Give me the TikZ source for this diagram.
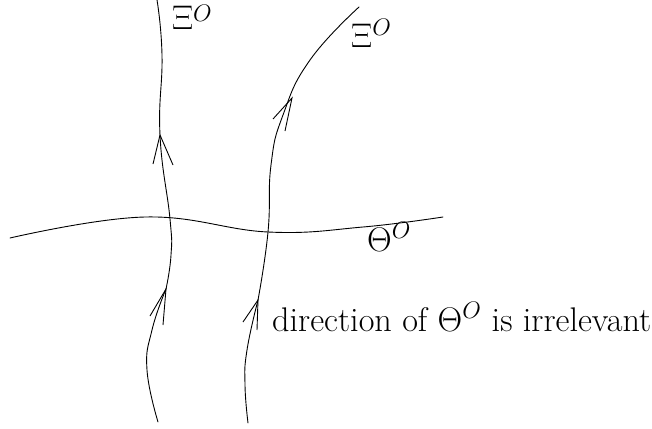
\RequirePackage{fix-cm}
\documentclass[tikz,border=0pt]{standalone}
\begin{document}
\begin{tikzpicture}[x=1pt,y=-1pt,
  curve/.style={line width=0.9pt,line join=round,line cap=round},
  barb/.style={line width=0.9pt,line join=miter},
  lbl/.style={inner sep=0pt,anchor=base west,font=\fontsize{34.2}{40}\selectfont}]
\useasboundingbox (0,0) rectangle (652,428);
% left Xi line
\draw[curve] plot[smooth,tension=0.8] coordinates {(157,0) (162,55) (160,135) (170,219) (171,255) (166,289)};
\draw[curve] plot[smooth,tension=0.8] coordinates {(166,289) (152,330) (147,370) (158,422)};
\draw[barb] (153,164) -- (160,135) -- (173,165);
\draw[barb] (150,316) -- (166,289) -- (163,325);
% right Xi line
\draw[curve] plot[smooth,tension=0.8] coordinates {(359,7) (310,60) (283,115) (271,165) (268,232) (258,300)};
\draw[curve] plot[smooth,tension=0.8] coordinates {(258,300) (247,350) (245,385) (248,423)};
\draw[barb] (273,119) -- (292,98) -- (285,131);
\draw[barb] (243,322) -- (258,300) -- (257,330);
% Theta line
\draw[curve] plot[smooth,tension=0.7] coordinates {(10,238) (145,217) (268,232) (363,227) (443,217)};
% labels
\node[lbl] (xi1) at (172,30) {$\Xi^{\raisebox{-4pt}{$\scriptstyle O$}}$};
\node[lbl] (xi2) at (351,48) {$\Xi^O$};
\node[lbl] (th) at (367,251) {$\Theta^O$};
\node[lbl] (txt) at (272,331) {direction of $\Theta^O$ is irrelevant};
\end{tikzpicture}
\end{document}
